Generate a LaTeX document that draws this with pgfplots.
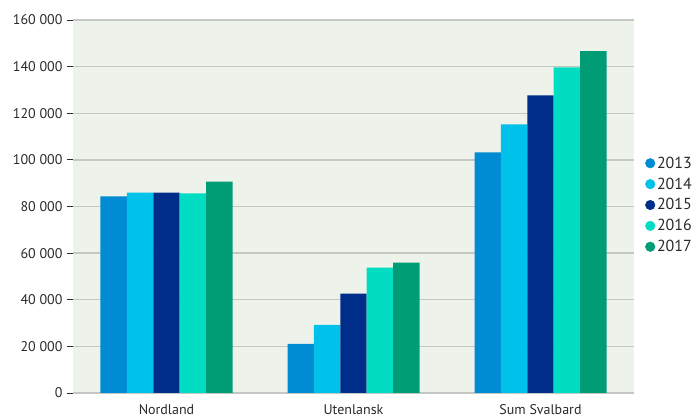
\documentclass[border=0pt]{standalone}
\usepackage{fontspec}
\setmainfont{PT Sans}
\usepackage{pgfplots}
\pgfplotsset{compat=1.18}
\definecolor{cA}{HTML}{008BD2}
\definecolor{cB}{HTML}{00C1EA}
\definecolor{cC}{HTML}{002D8A}
\definecolor{cD}{HTML}{00DDC2}
\definecolor{cE}{HTML}{009C75}
\definecolor{bg}{HTML}{EDF3EB}
\definecolor{gridc}{HTML}{C4C8C2}
\definecolor{txt}{HTML}{2A2A2A}
\begin{document}
\begin{tikzpicture}
\useasboundingbox (0,0) rectangle (695bp,418bp);
\begin{axis}[
  at={(73bp,25bp)}, anchor=south west,
  scale only axis, width=561bp, height=373bp,
  ybar=0pt, bar width=26.4bp,
  xmin=-0.5, xmax=2.5, ymin=0, ymax=160000,
  xtick=data, xticklabels={Nordland,Utenlansk,Sum Svalbard},
  ytick={0,20000,40000,60000,80000,100000,120000,140000,160000},
  yticklabels={0,20 000,40 000,60 000,80 000,100 000,120 000,140 000,160 000},
  scaled y ticks=false,
  axis x line*=bottom, axis y line*=left,
  y axis line style={draw=none},
  x axis line style={draw=gridc, line width=1.5bp},
  xtick style={draw=none},
  ytick style={draw=txt, line width=0.8bp},
  tick align=outside, major tick length=6bp,
  ymajorgrids, major grid style={draw=gridc, line width=1.3bp},
  axis background/.style={fill=bg},
  tick label style={font=\fontsize{14bp}{16bp}\selectfont, text=txt},
  yticklabel style={xshift=-1bp},
  xticklabel style={yshift=-2bp},
]
\addplot[fill=cA, draw=none] coordinates {(0,84300) (1,21100) (2,103200)};
\addplot[fill=cB, draw=none] coordinates {(0,86000) (1,29200) (2,115200)};
\addplot[fill=cC, draw=none] coordinates {(0,86000) (1,42600) (2,127700)};
\addplot[fill=cD, draw=none] coordinates {(0,85600) (1,53800) (2,139700)};
\addplot[fill=cE, draw=none] coordinates {(0,90700) (1,55900) (2,146600)};
\end{axis}
\begin{axis}[
  at={(73bp,25bp)}, anchor=south west,
  scale only axis, width=561bp, height=373bp,
  xmin=0, xmax=1, ymin=0, ymax=1, hide axis,
  legend style={at={(1.02,0.504)}, anchor=west, draw=none, fill=none,
    font=\fontsize{16bp}{17bp}\selectfont, text=txt, inner sep=0pt,
    row sep=4bp, /tikz/every even column/.append style={column sep=2bp}},
  legend cell align=left,
  legend image code/.code={\draw[#1] plot coordinates {(4.8bp,0bp)};},
]
\addlegendimage{only marks, mark=*, mark size=4.8bp, cA}\addlegendentry{2013}
\addlegendimage{only marks, mark=*, mark size=4.8bp, cB}\addlegendentry{2014}
\addlegendimage{only marks, mark=*, mark size=4.8bp, cC}\addlegendentry{2015}
\addlegendimage{only marks, mark=*, mark size=4.8bp, cD}\addlegendentry{2016}
\addlegendimage{only marks, mark=*, mark size=4.8bp, cE}\addlegendentry{2017}
\end{axis}
\end{tikzpicture}
\end{document}
